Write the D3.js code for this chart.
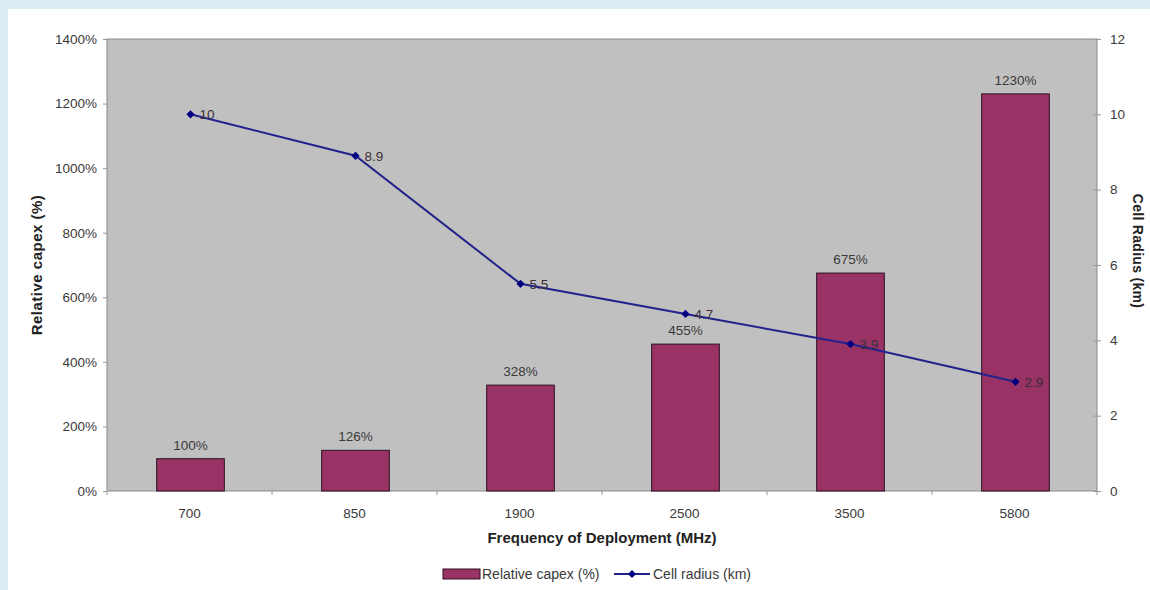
<!DOCTYPE html>
<html>
<head>
<meta charset="utf-8">
<script src="https://cdn.jsdelivr.net/npm/d3@7"></script>
<style>
    body { margin: 0; background: #dcedf4; }
    svg { display: block; font-family: "Liberation Sans", Arial, sans-serif; }
</style>
</head>
<body>
<svg id="chart" width="1150" height="590"></svg>
<script>
// chart values
const frequencies = ['700', '850', '1900', '2500', '3500', '5800'];
const capexPct = [100, 126, 328, 455, 675, 1230];
const cellRadius = [10, 8.9, 5.5, 4.7, 3.9, 2.9];
const capexTicks = [0, 200, 400, 600, 800, 1000, 1200, 1400];
const radiusTicks = [0, 2, 4, 6, 8, 10, 12];

const width = 1150;
const height = 590;
const margin = {top: 39, right: 53, bottom: 99, left: 107};
const plotW = width - margin.left - margin.right;
const plotH = height - margin.top - margin.bottom;
const tickFont = 13.5;

const svg = d3.select('#chart');

// white card on the blue page
svg.append('rect')
    .attr('x', 8).attr('y', 9)
    .attr('width', width - 8).attr('height', height - 9)
    .attr('fill', '#ffffff');

const g = svg.append('g')
    .attr('transform', 'translate(' + margin.left + ',' + margin.top + ')');

let x = d3.scaleBand()
    .domain(frequencies)
    .range([0, plotW])
    .paddingInner(0.59)
    .paddingOuter(0.295);

let yLeft = d3.scaleLinear().domain([0, 1400]).range([plotH, 0]);
let yRight = d3.scaleLinear().domain([0, 12]).range([plotH, 0]);

g.append('rect')
    .attr('width', plotW).attr('height', plotH)
    .attr('fill', '#c0c0c0')
    .attr('stroke', '#8a8a8a')
    .attr('stroke-width', 1);

// bars
g.selectAll('rect.bar')
    .data(capexPct)
    .enter()
    .append('rect')
    .attr('class', 'bar')
    .attr('x', function(d, i) { return x(frequencies[i]) + 1; })
    .attr('y', function(d) { return yLeft(d); })
    .attr('width', x.bandwidth())
    .attr('height', function(d) { return plotH - yLeft(d); })
    .attr('fill', '#993366')
    .attr('stroke', '#2a1020')
    .attr('stroke-width', 1);

g.selectAll('text.barlabel')
    .data(capexPct)
    .enter()
    .append('text')
    .attr('class', 'barlabel')
    .attr('x', function(d, i) { return x(frequencies[i]) + x.bandwidth() / 2 + 1; })
    .attr('y', function(d) { return yLeft(d) - 9; })
    .attr('text-anchor', 'middle')
    .attr('font-size', tickFont)
    .attr('fill', '#3a3a3a')
    .text(function(d) { return d + '%'; });

// axes
let leftAxis = d3.axisLeft(yLeft)
    .tickValues(capexTicks)
    .tickSize(4)
    .tickPadding(6)
    .tickFormat(function(d) { return d + '%'; });

let rightAxis = d3.axisRight(yRight)
    .tickValues(radiusTicks)
    .tickSize(4)
    .tickPadding(9);

let bottomAxis = d3.axisBottom(x)
    .tickSize(0)
    .tickPadding(17);

function styleAxis(sel) {
    sel.select('.domain').remove();
    sel.selectAll('line').attr('stroke', '#9a9a9a');
    sel.selectAll('text')
        .attr('font-size', tickFont)
        .attr('fill', '#3a3a3a')
        .attr('font-family', '"Liberation Sans", Arial, sans-serif');
}

g.append('g').call(leftAxis).call(styleAxis);
g.append('g').attr('transform', 'translate(' + plotW + ',0)').call(rightAxis).call(styleAxis)
    .selectAll('line').attr('x1', -4);
g.append('g').attr('transform', 'translate(0,' + plotH + ')').call(bottomAxis).call(styleAxis);

// category boundary ticks on the x axis
g.selectAll('line.xtick')
    .data(d3.range(frequencies.length + 1))
    .enter()
    .append('line')
    .attr('class', 'xtick')
    .attr('x1', function(i) { return i * x.step(); })
    .attr('x2', function(i) { return i * x.step(); })
    .attr('y1', plotH)
    .attr('y2', plotH + 4)
    .attr('stroke', '#9a9a9a');

// line series
let cx = function(i) { return x(frequencies[i]) + x.bandwidth() / 2 + 1; };

let line = d3.line()
    .x(function(d, i) { return cx(i); })
    .y(function(d) { return yRight(d); });

g.append('path')
    .datum(cellRadius)
    .attr('d', line)
    .attr('fill', 'none')
    .attr('stroke', '#22228c')
    .attr('stroke-width', 2);

// diamond marker: a small square turned 45 degrees
let diamond = d3.symbol().type(d3.symbolSquare).size(34);

g.selectAll('path.marker')
    .data(cellRadius)
    .enter()
    .append('path')
    .attr('class', 'marker')
    .attr('d', diamond)
    .attr('transform', function(d, i) {
        return 'translate(' + cx(i) + ',' + yRight(d) + ') rotate(45)';
    })
    .attr('fill', '#000080');

g.selectAll('text.linelabel')
    .data(cellRadius)
    .enter()
    .append('text')
    .attr('class', 'linelabel')
    .attr('x', function(d, i) { return cx(i) + 9; })
    .attr('y', function(d) { return yRight(d) + 5; })
    .attr('font-size', tickFont)
    .attr('fill', '#3a2f38')
    .text(function(d) { return d; });

// axis titles
svg.append('text')
    .attr('transform', 'translate(42,265) rotate(-90)')
    .attr('text-anchor', 'middle')
    .attr('font-size', 15)
    .attr('letter-spacing', 0.5)
    .attr('font-weight', 'bold')
    .attr('fill', '#222')
    .text('Relative capex (%)');

svg.append('text')
    .attr('transform', 'translate(1133,251) rotate(90)')
    .attr('text-anchor', 'middle')
    .attr('font-size', 14)
    .attr('letter-spacing', 0.3)
    .attr('font-weight', 'bold')
    .attr('fill', '#222')
    .text('Cell Radius (km)');

svg.append('text')
    .attr('x', margin.left + plotW / 2)
    .attr('y', 543)
    .attr('text-anchor', 'middle')
    .attr('font-size', 15)
    .attr('font-weight', 'bold')
    .attr('fill', '#222')
    .text('Frequency of Deployment (MHz)');

// legend
let legend = svg.append('g').attr('transform', 'translate(443,574)');
legend.append('rect')
    .attr('x', 0).attr('y', -5)
    .attr('width', 37).attr('height', 10)
    .attr('fill', '#993366')
    .attr('stroke', '#2a1020');
legend.append('text')
    .attr('x', 39).attr('y', 5)
    .attr('font-size', 14)
    .attr('fill', '#3a3a3a')
    .text('Relative capex (%)');
legend.append('line')
    .attr('x1', 171).attr('x2', 207)
    .attr('stroke', '#22228c')
    .attr('stroke-width', 2);
legend.append('path')
    .attr('d', diamond)
    .attr('transform', 'translate(189,0) rotate(45)')
    .attr('fill', '#000080');
legend.append('text')
    .attr('x', 210).attr('y', 5)
    .attr('font-size', 14)
    .attr('fill', '#3a3a3a')
    .text('Cell radius (km)');
</script>
</body>
</html>
